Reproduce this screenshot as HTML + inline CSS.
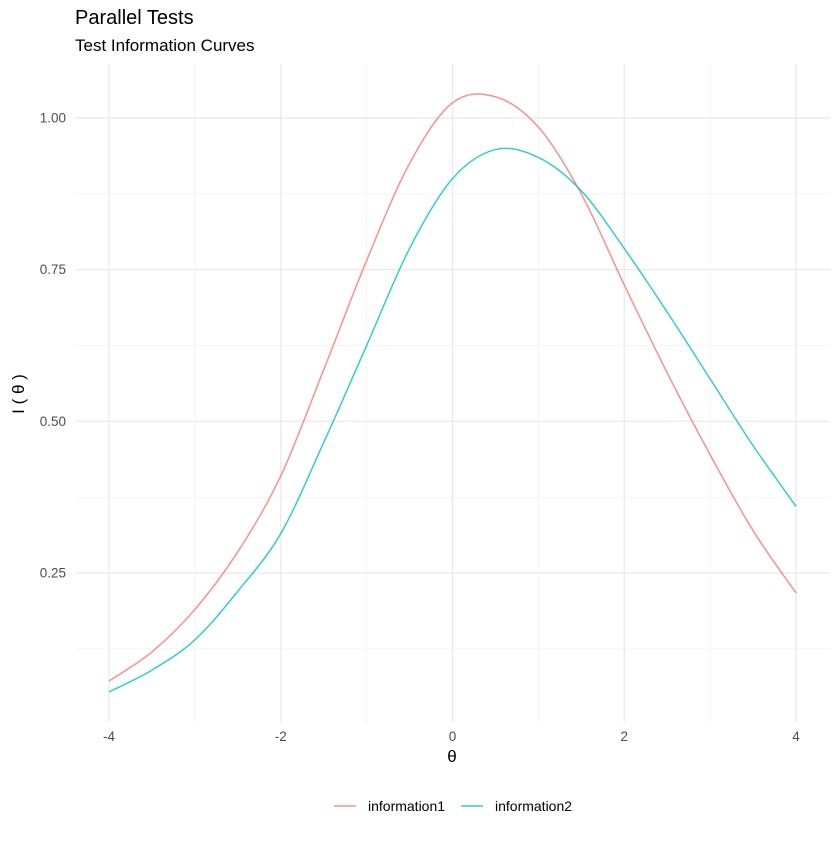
<!DOCTYPE html>
<html><head><meta charset="utf-8"><style>
body{margin:0;background:#fff;}
svg{font-family:"Liberation Sans",sans-serif;}
</style></head><body>
<svg id="c" width="840" height="840" xmlns="http://www.w3.org/2000/svg">
<rect width="840" height="840" fill="#fff"/>
<text x="75" y="24" font-size="20" fill="#000">Parallel Tests</text>
<text x="75" y="51" font-size="17" fill="#000">Test Information Curves</text>
<g id="grid"></g>
<g id="axes"></g>
<g id="series"></g>
<text x="452" y="762" font-size="17" text-anchor="middle" fill="#000">θ</text>
<text transform="translate(24,394) rotate(-90)" font-size="17" text-anchor="middle" fill="#000">I ( θ )</text>
<g>
<line x1="334" y1="806" x2="356" y2="806" stroke="#F8766D" stroke-opacity="0.8" stroke-width="1.5"/>
<text x="368" y="811" font-size="14" fill="#000">information1</text>
<line x1="461" y1="806" x2="483" y2="806" stroke="#00BFC4" stroke-opacity="0.8" stroke-width="1.5"/>
<text x="495" y="811" font-size="14" fill="#000">information2</text>
</g>
</svg>
<script>
const thetas=[-4,-3.5,-3,-2.5,-2,-1.5,-1,-0.5,0,0.5,1,1.5,2,2.5,3,3.5,4];
const info1=[0.072,0.12,0.19,0.285,0.41,0.585,0.765,0.925,1.025,1.035,0.985,0.875,0.725,0.58,0.445,0.32,0.217];
const info2=[0.054,0.09,0.14,0.22,0.315,0.465,0.625,0.785,0.90,0.948,0.935,0.88,0.785,0.68,0.57,0.46,0.36];
const xTicks=[-4,-2,0,2,4];
const xMinor=[-3,-1,1,3];
const yTicks=[0.25,0.5,0.75,1.0];
const yTickLabels=["0.25","0.50","0.75","1.00"];
const yMinor=[0.125,0.375,0.625,0.875];
const NS="http://www.w3.org/2000/svg";
const X=v=>452.5+v*85.875;
const Y=v=>118+(1-v)*606.7;
const L=75,R=830,T=64,B=722;
function mk(tag,attrs,parent){const e=document.createElementNS(NS,tag);for(const k in attrs)e.setAttribute(k,attrs[k]);parent.appendChild(e);return e;}
const grid=document.getElementById('grid'),axes=document.getElementById('axes'),series=document.getElementById('series');
yMinor.forEach(v=>{const e=mk('line',{x1:L,x2:R,y1:Y(v),y2:Y(v),stroke:'#f2f2f2','stroke-width':0.8},grid);

});
xMinor.forEach(v=>{const e=mk('line',{x1:X(v),x2:X(v),y1:T,y2:B,stroke:'#f2f2f2','stroke-width':0.8},grid);

});
yTicks.forEach((v,i)=>{const e=mk('line',{x1:L,x2:R,y1:Y(v),y2:Y(v),stroke:'#ebebeb','stroke-width':1.4},grid);


const t=mk('text',{x:66,y:Y(v)+4.5,'font-size':13.5,'text-anchor':'end',fill:'#4d4d4d'},axes);t.textContent=yTickLabels[i];

});
xTicks.forEach(v=>{const e=mk('line',{x1:X(v),x2:X(v),y1:T,y2:B,stroke:'#ebebeb','stroke-width':1.4},grid);


const t=mk('text',{x:X(v),y:741,'font-size':13.5,'text-anchor':'middle',fill:'#4d4d4d'},axes);t.textContent=String(v);

});
function path(vals){const p=thetas.map((t,i)=>[X(t),Y(vals[i])]);let d='M'+p[0][0]+','+p[0][1];
for(let i=0;i<p.length-1;i++){const p0=p[Math.max(0,i-1)],p1=p[i],p2=p[i+1],p3=p[Math.min(p.length-1,i+2)];
d+=' C'+(p1[0]+(p2[0]-p0[0])/6)+','+(p1[1]+(p2[1]-p0[1])/6)+' '+(p2[0]-(p3[0]-p1[0])/6)+','+(p2[1]-(p3[1]-p1[1])/6)+' '+p2[0]+','+p2[1];}
return d;}
const l1=mk('path',{d:path(info1),fill:'none',stroke:'#F8766D','stroke-opacity':0.8,'stroke-width':1.5},series);


const l2=mk('path',{d:path(info2),fill:'none',stroke:'#00BFC4','stroke-opacity':0.8,'stroke-width':1.5},series);


</script>
</body></html>
